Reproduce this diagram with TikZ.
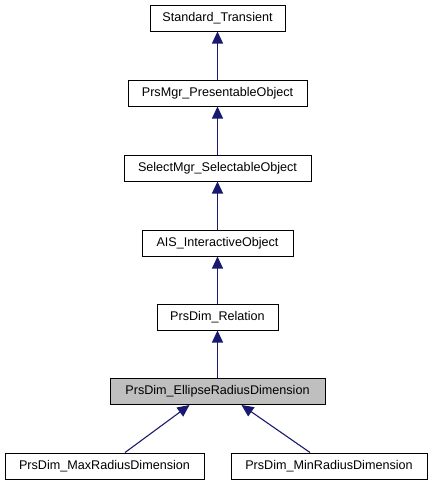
\documentclass[tikz,border=0pt]{standalone}
\usepackage{fontspec}
\setmainfont{Liberation Sans}
\usetikzlibrary{arrows.meta}
\definecolor{edgeblue}{RGB}{25,25,112}
\definecolor{boxgray}{RGB}{191,191,191}
\tikzset{
	cls/.style={draw=black, line width=1pt, fill=white, minimum height=26pt, inner sep=0pt, font=\fontsize{12.6}{15}\selectfont},
	inherit/.style={draw=edgeblue, line width=1.1pt, -{Triangle[length=12pt,width=11pt]}}
}
\begin{document}
\begin{tikzpicture}[x=1pt, y=-1pt]
			%%%%% START %%%%%
			\useasboundingbox (0, 0) rectangle (434, 485);
			
			\node[cls, minimum width=135pt] (transient) at (217.5, 18) {Standard\_Transient};
			\node[cls, minimum width=179pt] (presentable) at (217.5, 93) {PrsMgr\_PresentableObject};
			\node[cls, minimum width=187pt] (selectable) at (217.5, 168) {SelectMgr\_SelectableObject};
			\node[cls, minimum width=151pt] (interactive) at (217.5, 243) {AIS\_InteractiveObject};
			\node[cls, minimum width=121pt] (relation) at (217.5, 317) {PrsDim\_Relation};
			\node[cls, minimum width=215pt, fill=boxgray] (ellipse) at (217.5, 391.5) {PrsDim\_EllipseRadiusDimension};
			\node[cls, minimum width=199pt] (maxradius) at (104.5, 466) {PrsDim\_MaxRadiusDimension};
			\node[cls, minimum width=196pt] (minradius) at (329, 466) {PrsDim\_MinRadiusDimension};
			
			\draw[inherit] (presentable) -- (transient);
			\draw[inherit] (selectable) -- (presentable);
			\draw[inherit] (interactive) -- (selectable);
			\draw[inherit] (relation) -- (interactive);
			\draw[inherit] (ellipse) -- (relation);
			
			\draw[inherit] ([xshift=20.5pt]maxradius.north) -- ([xshift=-28pt]ellipse.south);
			\draw[inherit] ([xshift=-19pt]minradius.north) -- ([xshift=24pt]ellipse.south);
			%%%%% END %%%%%
\end{tikzpicture}
\end{document}
